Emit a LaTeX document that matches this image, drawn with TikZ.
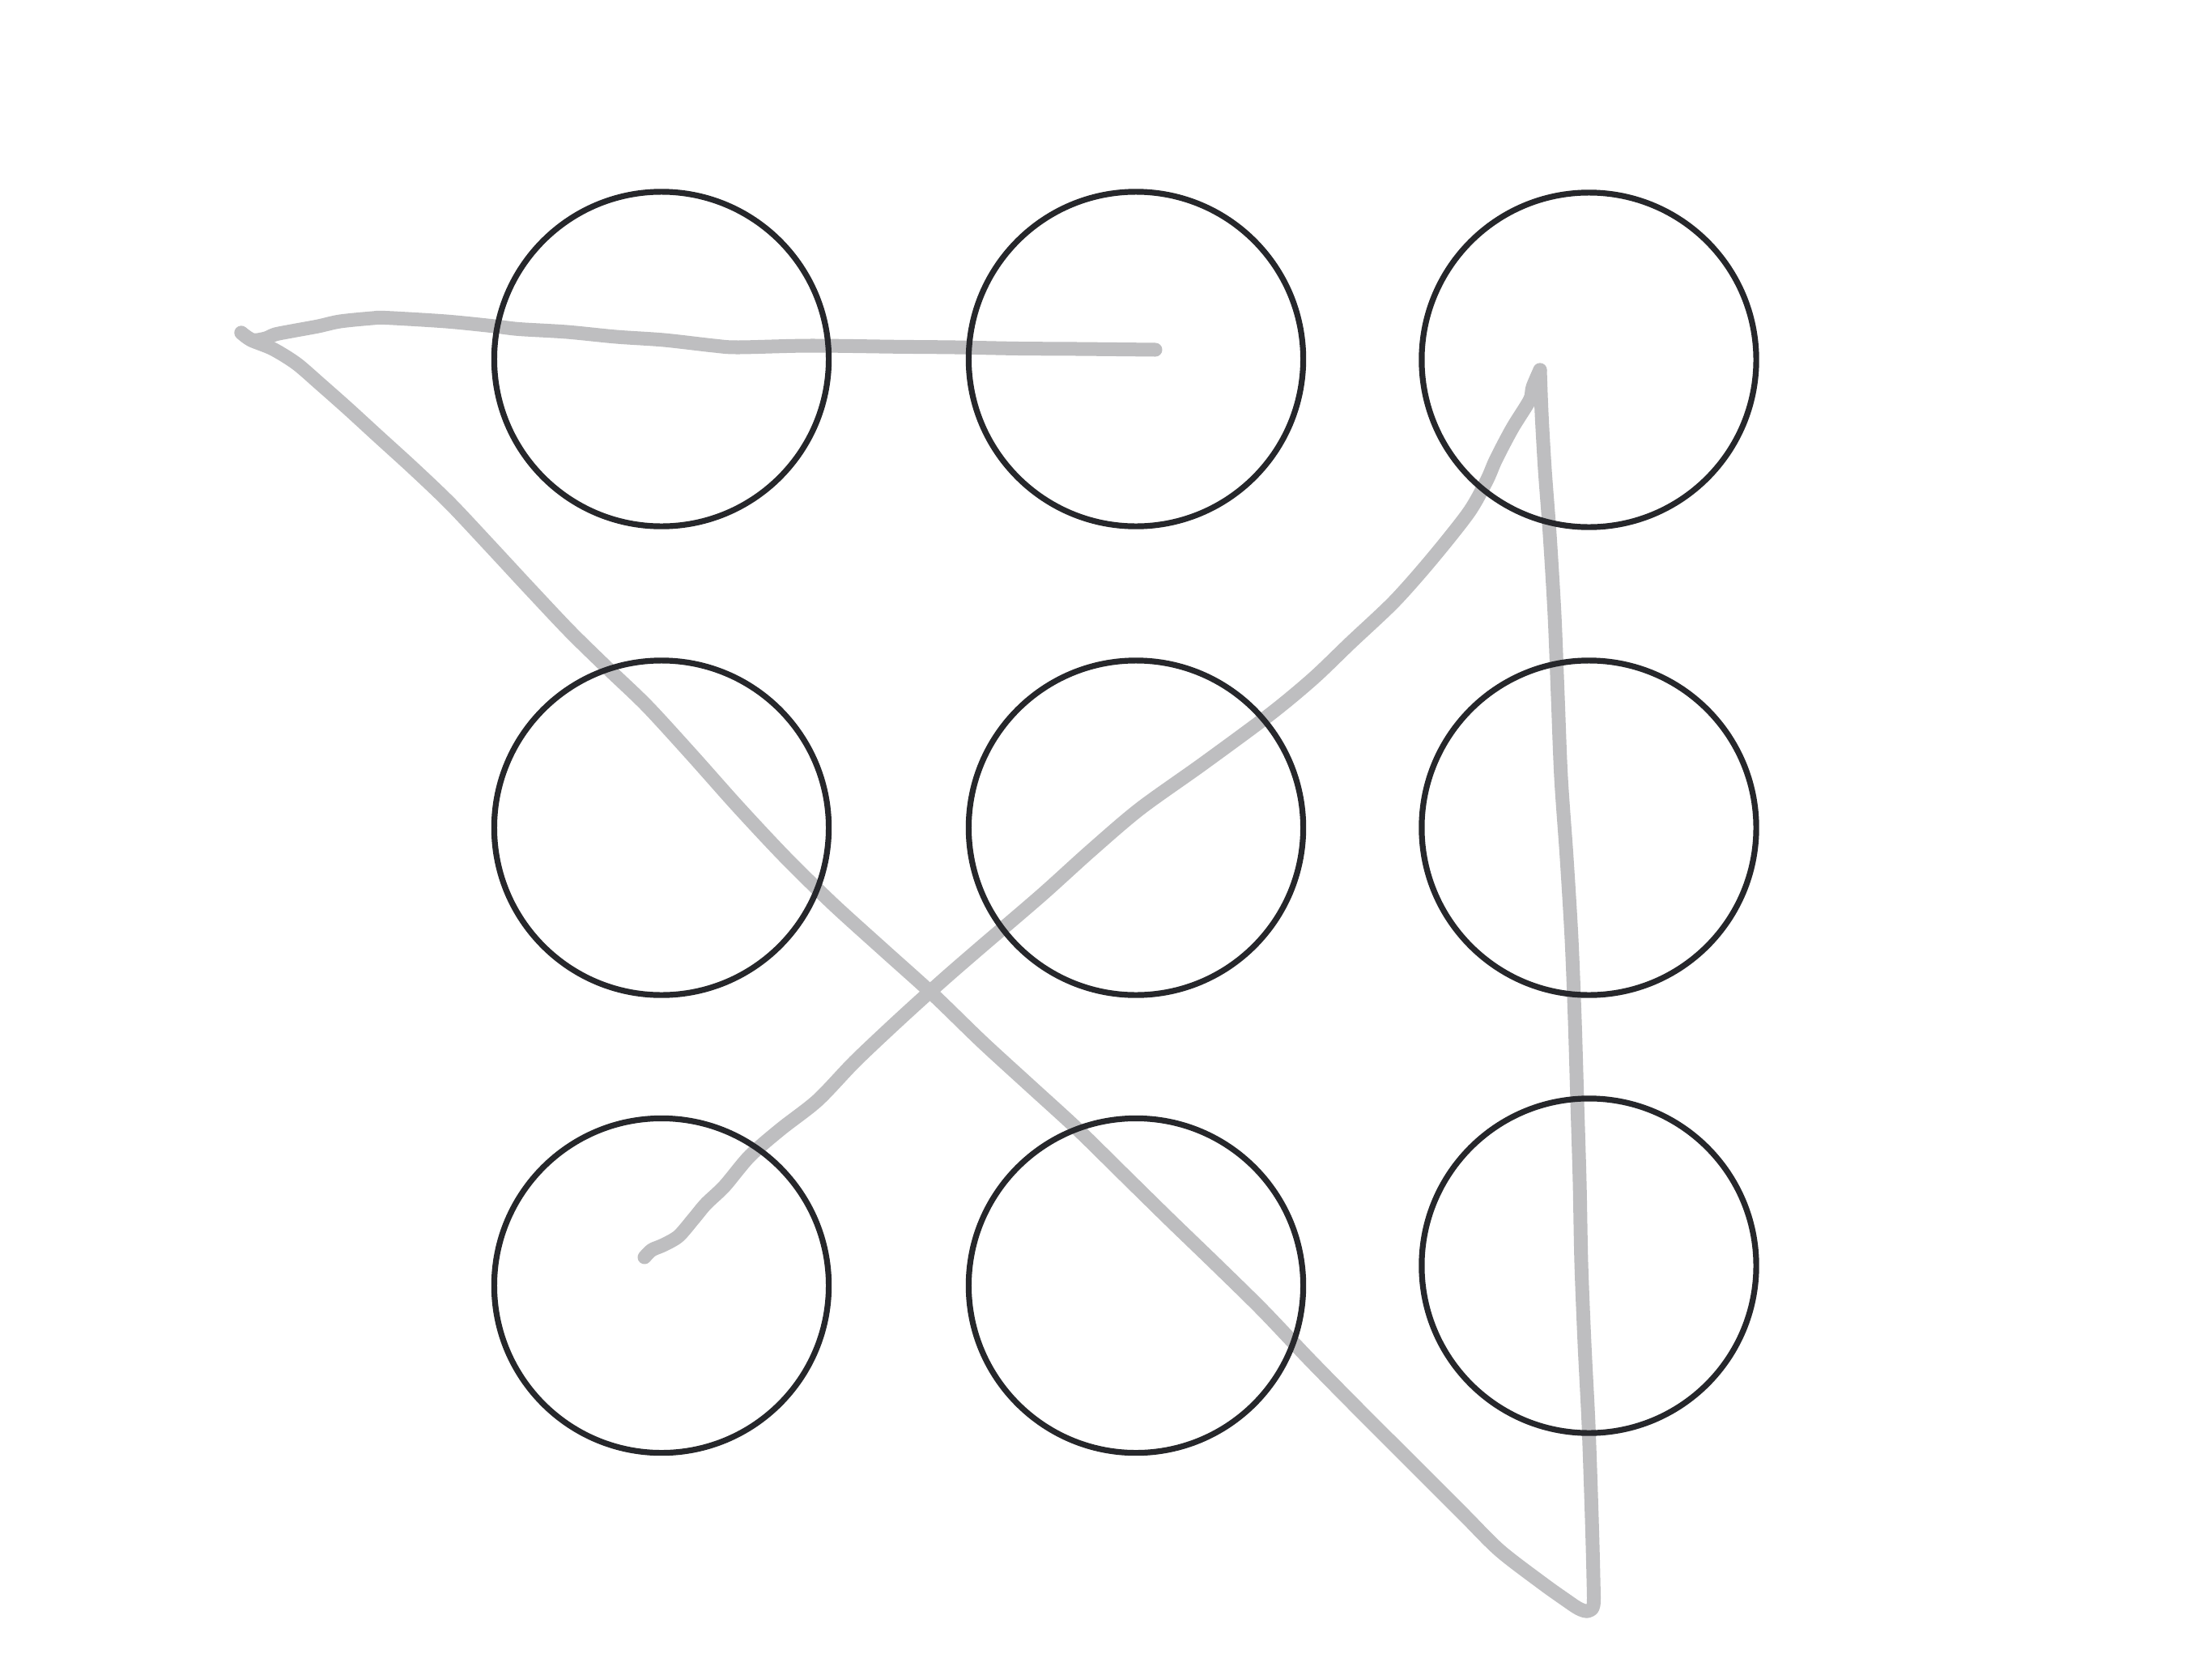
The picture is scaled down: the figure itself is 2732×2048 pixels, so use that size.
\documentclass[tikz,border=0pt]{standalone}
\usepackage{tikz}
\definecolor{ringcol}{HTML}{26272B}
\definecolor{tracecol}{HTML}{BEBEC0}
\tikzset{
  ring/.style={circle, draw=ringcol, line width=0.072cm, minimum size=4.13cm, inner sep=0pt},
  trace/.style={draw=tracecol, line width=0.17cm, line cap=round, line join=round}
}
\begin{document}
\begin{tikzpicture}[x=0.01cm, y=-0.01cm]
\useasboundingbox (0,0) rectangle (2732,2048);
\fill[white] (0,0) rectangle (2732,2048);
% gray gesture trace
\coordinate (startTop) at (1427,432);
\coordinate (tipLeft) at (298,411);
\coordinate (tipRight) at (1902,457);
\coordinate (endLow) at (796,1553);
\draw[trace] plot[smooth, tension=0.5] coordinates {
 (1427,432) (1330,431) (1258,430.5) (1180,429) (1108,428.3) (1000,427) (912,429) (882,427)
 (820,420) (761,416) (700,410) (641,406.5) (611,403) (551,397) (476,392.5) (460,393)
 (420,397) (393,403) (363,408.5) (340,413) (328,418) (312,420) (298,411)};
\draw[trace] plot[smooth, tension=0.5] coordinates {
 (298,411) (310,420) (337,431) (366,449) (395,474) (430,505) (466,538) (511,579) (556,622)
 (603,672) (654,727) (704,780) (751,826) (799,872) (854,932) (911,996) (969,1058)
 (1028,1116) (1092,1174) (1152,1228) (1213,1287) (1272,1341) (1330,1394) (1387,1450)
 (1444,1506) (1502,1562) (1559,1618) (1617,1679) (1674,1737) (1731,1794) (1806,1869)
 (1852,1915) (1904,1955) (1932,1975) (1950,1987) (1961,1990) (1968,1983) (1968,1950)
 (1966,1875) (1962,1760) (1957,1660) (1953,1560) (1951,1460) (1948,1360) (1945,1260)
 (1941,1160) (1935,1060) (1928,960) (1924,860) (1920,760) (1914,660) (1908,580)
 (1904,510) (1902,457)};
\draw[trace] plot[smooth, tension=0.5] coordinates {
 (1902,457) (1893,478) (1891,490) (1886,500) (1869,527) (1856,551) (1846,571) (1836,594)
 (1814,633) (1768,691) (1722,743) (1668,794) (1622,838) (1569,882) (1485,944) (1408,999)
 (1347,1051) (1286,1106) (1209,1172) (1163,1212) (1110,1260) (1056,1311) (1010,1359)
 (964,1395) (926,1428) (895,1465) (872,1487) (857,1505) (838,1527) (819,1538) (805,1544)
 (796,1553)};
% grid of circles
\node[ring] (c11) at (817,443.5) {};
\node[ring] (c12) at (1403,443.5) {};
\node[ring] (c13) at (1962.5,444.5) {};
\node[ring] (c21) at (817,1022.5) {};
\node[ring] (c22) at (1403,1022.5) {};
\node[ring] (c23) at (1962.5,1022.5) {};
\node[ring] (c31) at (817,1588) {};
\node[ring] (c32) at (1403,1588) {};
\node[ring] (c33) at (1962.5,1563.5) {};
\end{tikzpicture}
\end{document}
